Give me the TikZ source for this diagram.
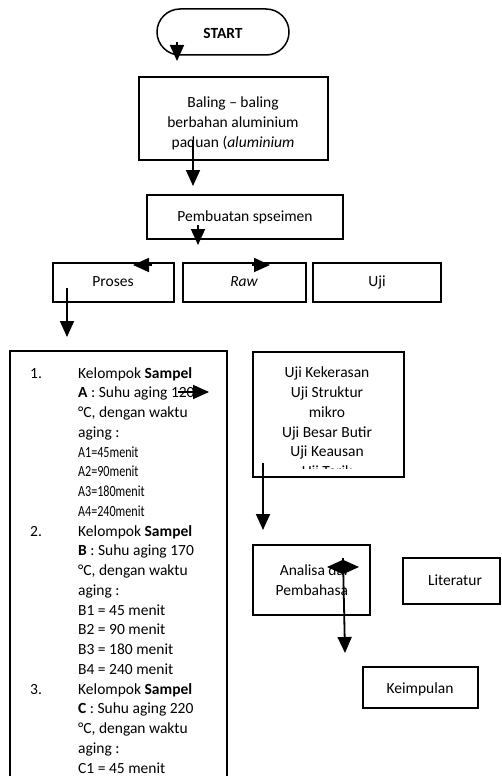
\documentclass[tikz,border=0pt]{standalone}
\usepackage{fontspec}
\usepackage{graphicx}
\setmainfont{Carlito}
\usetikzlibrary{arrows.meta}
\newcommand\dfs{\fontsize{15.5pt}{19.75pt}\selectfont}
\tikzset{
  box/.style={draw=black, line width=1.5pt, fill=none, inner sep=0pt},
  arr/.style={line width=1.8pt, -{Triangle[length=16pt,width=14pt]}},
  txt/.style={font=\dfs, inner sep=0pt, text=black},
}
\begin{document}
\begin{tikzpicture}[x=1pt,y=-1pt]
\useasboundingbox (0,0) rectangle (502,776);
\fill[white] (0,0) rectangle (502,776);
\clip (0,0) rectangle (502,776);

% START
\node[box, rounded corners=23pt, minimum width=132pt, minimum height=46pt] (start) at (223,32) {};
\node[txt, font=\dfs\bfseries] (starttxt) at (223,33) {START};

% Baling box (base anchor = last line baseline)
\node[box, minimum width=189pt, minimum height=83pt] (baling) at (233.5,118.5) {};
\node[txt, align=center, anchor=base] (balingtxt) at (233,147) {Baling -- baling\\berbahan aluminium\\paduan (\textit{aluminium}};

% Pembuatan
\node[box, minimum width=196pt, minimum height=44pt] (pemb) at (245,217) {};
\node[txt] (pembtxt) at (245,217) {Pembuatan spseimen};

% Row of three
\node[box, minimum width=121pt, minimum height=39pt] (proses) at (113.5,282.5) {};
\node[txt] (prosestxt) at (113,282) {Proses};
\node[box, minimum width=123pt, minimum height=39pt] (raw) at (244.5,282.5) {};
\node[txt, font=\dfs\itshape] (rawtxt) at (244,282) {Raw};
\node[box, minimum width=128pt, minimum height=39pt] (uji) at (377,282.5) {};
\node[txt] (ujitxt) at (377,282) {Uji};

% Big left box
\node[box, minimum width=217pt, minimum height=449pt] (sampel) at (118.5,575.5) {};
\node[txt, anchor=base west] (n1) at (30,378) {1.};
\node[txt, anchor=base west] (n2) at (30,536) {2.};
\node[txt, anchor=base west] (n3) at (30,694) {3.};
\node[txt, align=left, anchor=base west] (sampeltxt) at (78,773) {%
Kelompok \textbf{Sampel}\\
\textbf{A} : Suhu aging 120\\
°C, dengan waktu\\
aging :\\
\scalebox{0.78}[1]{A1=45menit}\\
\scalebox{0.78}[1]{A2=90menit}\\
\scalebox{0.78}[1]{A3=180menit}\\
\scalebox{0.78}[1]{A4=240menit}\\
Kelompok \textbf{Sampel}\\
\textbf{B} : Suhu aging 170\\
°C, dengan waktu\\
aging :\\
B1 = 45 menit\\
B2 = 90 menit\\
B3 = 180 menit\\
B4 = 240 menit\\
Kelompok \textbf{Sampel}\\
\textbf{C} : Suhu aging 220\\
°C, dengan waktu\\
aging :\\
C1 = 45 menit};

% Uji detail box
\node[box, minimum width=151pt, minimum height=125pt] (ujidet) at (328.5,414.5) {};
\begin{scope}
\clip (255,354) rectangle (402,468.5);
\node[txt, align=center, anchor=base] (ujidettxt) at (327,476.5) {Uji Kekerasan\\Uji Struktur\\mikro\\Uji Besar Butir\\Uji Keausan\\Uji Tarik};
\end{scope}

% Analisa box
\node[box, minimum width=117pt, minimum height=70pt] (analisa) at (311.5,580) {};
\begin{scope}
\clip (255,547) rectangle (348,613);
\node[txt, align=center, anchor=base] (analisatxt) at (316,595) {Analisa dan\\Pembahasan};
\end{scope}

% Literatur
\node[box, minimum width=97pt, minimum height=46pt] (lit) at (451.5,581) {};
\node[txt] (littxt) at (455,580) {Literatur};

% Keimpulan
\node[box, minimum width=115pt, minimum height=41pt] (kes) at (420.5,687.5) {};
\node[txt] (kestxt) at (420,689) {Keimpulan};

% connector coordinates
\coordinate (c1s) at (177,42);  \coordinate (c1e) at (177,61);
\coordinate (c2s) at (193,140); \coordinate (c2e) at (193,186);
\coordinate (c3s) at (198,225); \coordinate (c3e) at (198,245);
\coordinate (c4s) at (152,265); \coordinate (c4e) at (133,265);
\coordinate (c5s) at (252,265); \coordinate (c5e) at (270,265);
\coordinate (c6s) at (67,288);  \coordinate (c6e) at (67,337);
\coordinate (c7s) at (178,392); \coordinate (c7e) at (209,392);
\coordinate (c8s) at (263,463); \coordinate (c8e) at (263,530);
\coordinate (hub) at (343,567);
\coordinate (c9l) at (327,567); \coordinate (c9r) at (359,567);
\coordinate (c10s) at (343,558); \coordinate (c10e) at (345,653);

\draw[arr] (c1s) -- (c1e);
\draw[arr] (c2s) -- (c2e);
\draw[arr] (c3s) -- (c3e);
\draw[arr] (c4s) -- (c4e);
\draw[arr] (c5s) -- (c5e);
\draw[arr] (c6s) -- (c6e);
\draw[arr] (c7s) -- (c7e);
\draw[arr] (c8s) -- (c8e);
\draw[arr] (hub) -- (c9l);
\draw[arr] (hub) -- (c9r);
\draw[arr] (c10s) -- (c10e);
\end{tikzpicture}
\end{document}
